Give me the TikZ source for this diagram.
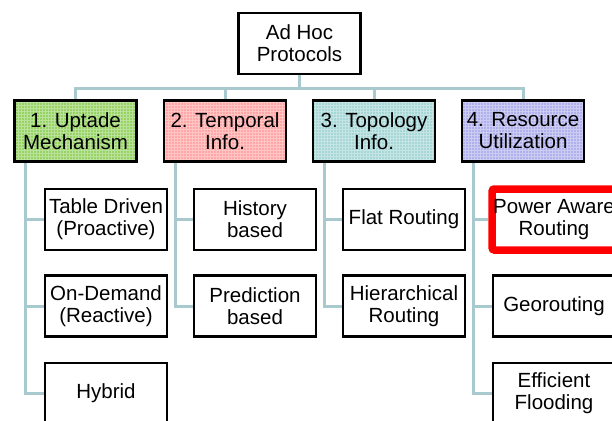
\documentclass[tikz,border=0pt]{standalone}
\usepackage{fontspec}
\setmainfont{Liberation Sans}
\usetikzlibrary{patterns}

\definecolor{linkgray}{HTML}{A8CACE}
\definecolor{updgreen}{HTML}{96D264}
\definecolor{tmppink}{HTML}{FFA6A6}
\definecolor{topteal}{HTML}{A6D6D6}
\definecolor{respurple}{HTML}{B0B0EC}

\tikzset{
  box/.style={draw,line width=2.5pt,minimum width=122pt,minimum height=61pt,
    align=center,inner sep=1pt,font=\fontsize{20.5}{22}\selectfont},
  cat/.style={box,preaction={fill=#1},
    preaction={pattern=grid,pattern color=white!35!#1}},
  hot/.style={box,draw=red,line width=7.5pt,rounded corners=2pt},
  link/.style={draw=linkgray,line width=3pt},
}

\begin{document}
\begin{tikzpicture}[x=1pt,y=-1pt]
  \useasboundingbox (0,0) rectangle (612,420);
  \clip (0,0) rectangle (612,420);

  \node[box] (root) at (299.5,43.5) {Ad Hoc\\Protocols};
  \coordinate (bus) at (299.5,88);

  % the four classes
  \node[cat=updgreen]  (upd) at (75.5,131) {1. Uptade\\Mechanism};
  \node[cat=tmppink]   (tmp) at (225,131)  {2. Temporal\\Info.};
  \node[cat=topteal]   (top) at (374,131)  {3. Topology\\Info.};
  \node[cat=respurple] (res) at (523,131)  {4. Resource\\Utilization};

  % children, one row every 87pt
  \node[box] (table) at (106,219.5) {Table Driven\\(Proactive)};
  \node[box] (ondem) at (106,306)   {On-Demand\\(Reactive)};
  \node[box] (hybr)  at (106,393.5) {Hybrid};
  \node[box] (hist)  at (255,219.5) {History\\based};
  \node[box] (pred)  at (255,306)   {Prediction\\based};
  \node[box] (flat)  at (404,219.5) {Flat Routing};
  \node[box] (hier)  at (404,306)   {Hierarchical\\Routing};
  \node[hot] (power) at (554,219.5) {Power Aware\\Routing};
  \node[box] (geo)   at (554,306)   {Georouting};
  \node[box] (flood) at (554,393.5) {Efficient\\Flooding};

  \foreach \c in {upd,tmp,top,res}
    \draw[link] (root.south) -- (bus) -| (\c.north);

  \draw[link] ([xshift=12.5pt]upd.south west) |- (table.west);
  \draw[link] ([xshift=12.5pt]upd.south west) |- (ondem.west);
  \draw[link] ([xshift=12.5pt]upd.south west) |- (hybr.west);
  \draw[link] ([xshift=12.5pt]tmp.south west) |- (hist.west);
  \draw[link] ([xshift=12.5pt]tmp.south west) |- (pred.west);
  \draw[link] ([xshift=12.5pt]top.south west) |- (flat.west);
  \draw[link] ([xshift=12.5pt]top.south west) |- (hier.west);
  \draw[link] ([xshift=12.5pt]res.south west) |- (power.west);
  \draw[link] ([xshift=12.5pt]res.south west) |- (geo.west);
  \draw[link] ([xshift=12.5pt]res.south west) |- (flood.west);
\end{tikzpicture}
\end{document}
